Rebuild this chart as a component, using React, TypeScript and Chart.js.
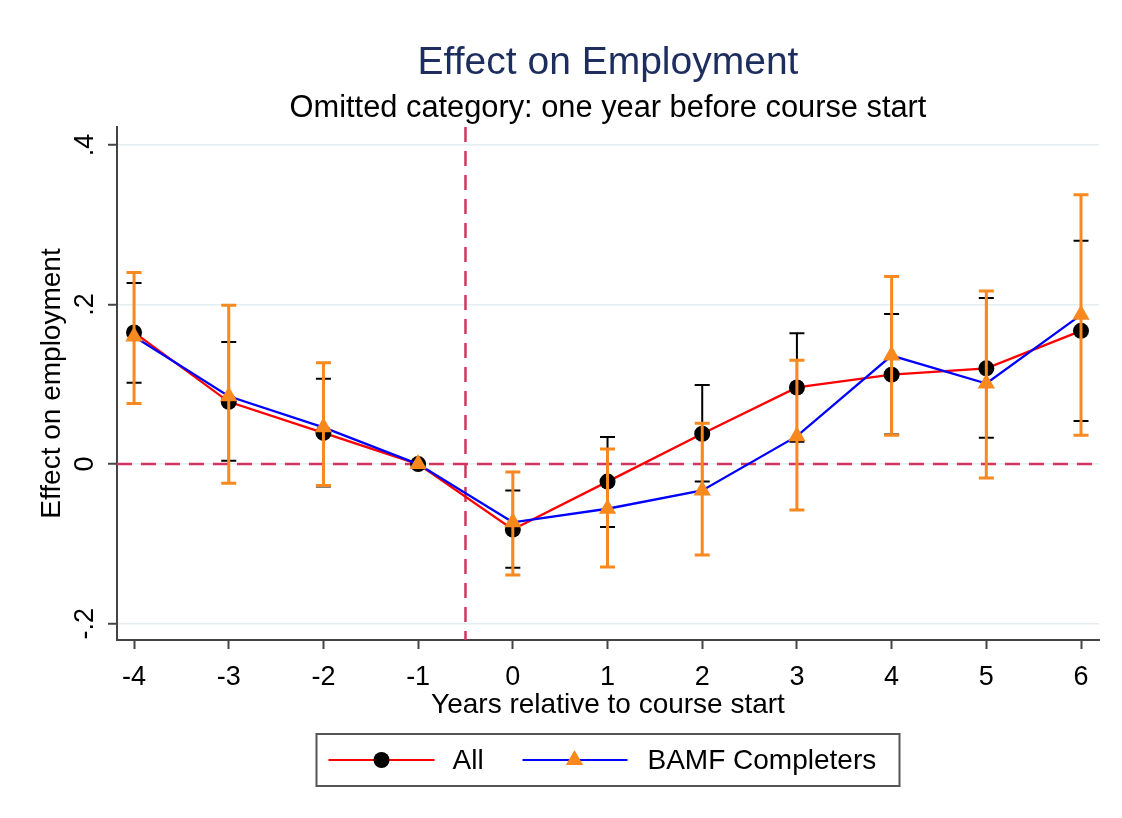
import React, { useEffect, useRef } from "react";
import { Chart, registerables } from "chart.js";

Chart.register(...registerables);

// ---- data ----
const years = [-4, -3, -2, -1, 0, 1, 2, 3, 4, 5, 6];
const xTickLabels = ["-4", "-3", "-2", "-1", "0", "1", "2", "3", "4", "5", "6"];

const allEst = [0.165, 0.078, 0.039, 0, -0.082, -0.022, 0.038, 0.096, 0.112, 0.12, 0.167];
const allLo: (number | null)[] = [0.102, 0.004, -0.028, null, -0.13, -0.079, -0.022, 0.028, 0.037, 0.033, 0.054];
const allHi: (number | null)[] = [0.227, 0.153, 0.107, null, -0.033, 0.034, 0.099, 0.164, 0.188, 0.208, 0.28];

const bamfEst = [0.16, 0.085, 0.046, 0, -0.073, -0.056, -0.033, 0.035, 0.136, 0.101, 0.187];
const bamfLo: (number | null)[] = [0.076, -0.024, -0.027, null, -0.139, -0.129, -0.114, -0.0575, 0.036, -0.0175, 0.036];
const bamfHi: (number | null)[] = [0.24, 0.199, 0.127, null, -0.01, 0.019, 0.051, 0.13, 0.235, 0.217, 0.3375];

const yTicks = [-0.2, 0, 0.2, 0.4];
const yTickLabels = ["-.2", "0", ".2", ".4"];
const refX = -0.5;
const refY = 0;

const FONT = '"Liberation Sans", Arial, Helvetica, sans-serif';
const RED = "#ff0000";
const BLUE = "#0000ff";
const ORANGE = "#f7891e";
const REF = "#d1365f";
const AXIS = "#444444";

export default function App() {
  const ref = useRef<HTMLCanvasElement | null>(null);

  useEffect(() => {
    document.body.style.margin = "0";
    const canvas = ref.current;
    if (!canvas) return;

    const ciSets = [
      { lo: allLo, hi: allHi, color: "#000000", width: 2 },
      { lo: bamfLo, hi: bamfHi, color: ORANGE, width: 3 },
    ];

    const errorBars = {
      id: "errorBars",
      afterDatasetDraw(chart: any, args: any) {
        const set = ciSets[args.index];
        if (!set) return;
        const ctx = chart.ctx;
        const xs = chart.scales.x;
        const ys = chart.scales.y;
        ctx.save();
        ctx.strokeStyle = set.color;
        ctx.lineWidth = set.width;
        years.forEach((yr, i) => {
          const lo = set.lo[i];
          const hi = set.hi[i];
          if (lo == null || hi == null) return;
          const px = xs.getPixelForValue(yr);
          const pLo = ys.getPixelForValue(lo);
          const pHi = ys.getPixelForValue(hi);
          ctx.beginPath();
          ctx.moveTo(px, pLo);
          ctx.lineTo(px, pHi);
          ctx.moveTo(px - 7.5, pLo);
          ctx.lineTo(px + 7.5, pLo);
          ctx.moveTo(px - 7.5, pHi);
          ctx.lineTo(px + 7.5, pHi);
          ctx.stroke();
        });
        ctx.restore();
      },
    };

    const refLines = {
      id: "refLines",
      beforeDatasetsDraw(chart: any) {
        const ctx = chart.ctx;
        const ca = chart.chartArea;
        const xs = chart.scales.x;
        const ys = chart.scales.y;
        ctx.save();
        ctx.strokeStyle = REF;
        ctx.lineWidth = 2.5;
        ctx.setLineDash([15, 9]);
        const py = ys.getPixelForValue(refY);
        ctx.beginPath();
        ctx.moveTo(ca.left, py);
        ctx.lineTo(ca.right, py);
        ctx.stroke();
        const px = xs.getPixelForValue(refX);
        ctx.beginPath();
        ctx.moveTo(px, ca.top);
        ctx.lineTo(px, ca.bottom);
        ctx.stroke();
        ctx.restore();
      },
    };

    const yLabels = {
      id: "yLabels",
      afterDraw(chart: any) {
        const ctx = chart.ctx;
        const ys = chart.scales.y;
        const ca = chart.chartArea;
        ctx.save();
        ctx.font = `27px ${FONT}`;
        ctx.fillStyle = "#000";
        ctx.textAlign = "center";
        ctx.textBaseline = "alphabetic";
        yTicks.forEach((v, i) => {
          const py = ys.getPixelForValue(v);
          ctx.save();
          ctx.translate(ca.left - 24, py);
          ctx.rotate(-Math.PI / 2);
          ctx.fillText(yTickLabels[i], 0, 0);
          ctx.restore();
        });
        ctx.restore();
      },
    };

    const boxLegend = {
      id: "boxLegend",
      afterDraw(chart: any) {
        const ctx = chart.ctx;
        const ca = chart.chartArea;
        const w = 583;
        const h = 52;
        const left = (ca.left + ca.right) / 2 - w / 2;
        const top = ca.bottom + 94;
        const cy = top + 26;
        ctx.save();
        ctx.fillStyle = "#fff";
        ctx.fillRect(left, top, w, h);
        ctx.strokeStyle = "#555";
        ctx.lineWidth = 2;
        ctx.strokeRect(left, top, w, h);

        const ds = chart.data.datasets;
        // item 1
        ctx.strokeStyle = ds[0].borderColor;
        ctx.lineWidth = 2;
        ctx.beginPath();
        ctx.moveTo(left + 12, cy);
        ctx.lineTo(left + 118, cy);
        ctx.stroke();
        ctx.fillStyle = ds[0].pointBackgroundColor;
        ctx.beginPath();
        ctx.arc(left + 65, cy, 8, 0, Math.PI * 2);
        ctx.fill();
        // item 2
        ctx.strokeStyle = ds[1].borderColor;
        ctx.beginPath();
        ctx.moveTo(left + 206, cy);
        ctx.lineTo(left + 311, cy);
        ctx.stroke();
        ctx.fillStyle = ds[1].pointBackgroundColor;
        const tx = left + 258;
        const r = 10;
        ctx.beginPath();
        ctx.moveTo(tx, cy - r);
        ctx.lineTo(tx + r * Math.sin((2 * Math.PI) / 3), cy + r / 2);
        ctx.lineTo(tx - r * Math.sin((2 * Math.PI) / 3), cy + r / 2);
        ctx.closePath();
        ctx.fill();

        ctx.fillStyle = "#000";
        ctx.font = `28px ${FONT}`;
        ctx.textAlign = "left";
        ctx.textBaseline = "middle";
        ctx.fillText(ds[0].label, left + 136, cy + 1);
        ctx.fillText(ds[1].label, left + 331, cy + 1);
        ctx.restore();
      },
    };

    const chart = new Chart(canvas, {
      type: "line",
      data: {
        datasets: [
          {
            label: "All",
            data: years.map((x, i) => ({ x, y: allEst[i] })),
            borderColor: RED,
            borderWidth: 2.3,
            pointStyle: "circle",
            pointRadius: 8,
            pointBorderWidth: 0,
            pointBackgroundColor: "#000000",
            pointHoverRadius: 8,
            order: 1,
            tension: 0,
          },
          {
            label: "BAMF Completers",
            data: years.map((x, i) => ({ x, y: bamfEst[i] })),
            borderColor: BLUE,
            borderWidth: 2.3,
            pointStyle: "triangle",
            pointRadius: 10,
            pointBorderWidth: 0,
            pointBackgroundColor: ORANGE,
            pointHoverRadius: 10,
            order: 0,
            tension: 0,
          },
        ],
      },
      options: {
        responsive: false,
        animation: false,
        events: [],
        devicePixelRatio: 1,
        layout: { padding: { top: 40, left: 0, right: 23, bottom: 96 } },
        plugins: {
          legend: { display: false },
          tooltip: { enabled: false },
          title: {
            display: true,
            fullSize: false,
            text: "Effect on Employment",
            color: "#1c2d5e",
            font: { family: FONT, size: 39, weight: "normal" },
            padding: { top: 0, bottom: 3.1 },
          },
          subtitle: {
            display: true,
            fullSize: false,
            text: "Omitted category: one year before course start",
            color: "#000",
            font: { family: FONT, size: 30.8, weight: "normal" },
            padding: { top: 0, bottom: 0.1 },
          },
        },
        scales: {
          x: {
            type: "linear",
            min: -4.18,
            max: 6.19,
            afterBuildTicks: (scale: any) => {
              scale.ticks = years.map((v) => ({ value: v }));
            },
            afterFit: (scale: any) => {
              scale.height = 82;
            },
            ticks: {
              color: "#000",
              font: { family: FONT, size: 27 },
              padding: 12,
              maxRotation: 0,
              autoSkip: false,
              callback: (_v: any, i: number) => xTickLabels[i],
            },
            grid: {
              drawOnChartArea: false,
              drawTicks: true,
              tickLength: 9,
              tickColor: AXIS,
              tickWidth: 2,
            },
            border: { display: true, color: AXIS, width: 2 },
            title: {
              display: true,
              text: "Years relative to course start",
              color: "#000",
              font: { family: FONT, size: 28 },
              padding: { top: 0, bottom: 0 },
            },
          },
          y: {
            type: "linear",
            min: -0.2205,
            max: 0.4225,
            afterBuildTicks: (scale: any) => {
              scale.ticks = yTicks.map((v) => ({ value: v }));
            },
            afterFit: (scale: any) => {
              scale.width = 117;
            },
            ticks: { display: false },
            grid: {
              color: "#e4edf0",
              lineWidth: 1.5,
              drawTicks: true,
              tickLength: 9,
              tickColor: AXIS,
              tickWidth: 2,
            },
            border: { display: true, color: AXIS, width: 2 },
            title: {
              display: true,
              text: "Effect on employment",
              color: "#000",
              font: { family: FONT, size: 28 },
              padding: { top: 35.2, bottom: 0 },
            },
          },
        },
      },
      plugins: [refLines, errorBars, yLabels, boxLegend],
    } as any);

    return () => {
      chart.destroy();
    };
  }, []);

  return (
    <div style={{ width: 1122, height: 818, background: "#fff" }}>
      <canvas ref={ref} width={1122} height={818} style={{ display: "block" }} />
    </div>
  );
}
